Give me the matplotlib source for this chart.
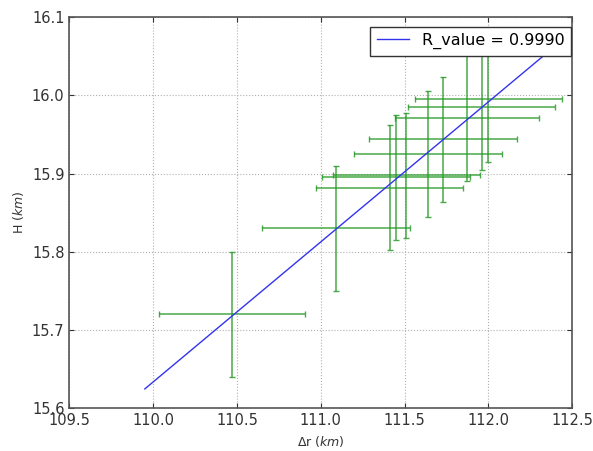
import numpy as np
import matplotlib.pyplot as plt

# data
dr = [110.47, 111.09, 111.41, 111.45, 111.51, 111.64, 111.73, 111.87, 111.96, 112.00]
H = [15.720, 15.830, 15.882, 15.895, 15.898, 15.925, 15.944, 15.971, 15.985, 15.995]
dr_err = [0.435, 0.44, 0.44, 0.44, 0.44, 0.44, 0.44, 0.43, 0.44, 0.44]
H_err = [0.08, 0.08, 0.08, 0.08, 0.08, 0.08, 0.08, 0.08, 0.08, 0.08]
line_x = [109.95, 112.40]
r_label = "R_value = 0.9990"

fig = plt.figure(figsize=(5.93, 4.51), dpi=100)
ax = fig.add_axes([0.117, 0.095, 0.848, 0.867])

ax.errorbar(dr, H, xerr=dr_err, yerr=H_err, fmt='none', ecolor='#2a9a2a',
            elinewidth=1.1, capsize=2.5, alpha=0.85, zorder=2)

# least squares line
p = np.polyfit(dr, H, 1)
xx = np.array(line_x)
ax.plot(xx, np.polyval(p, xx), color='#3333ee', lw=1.0, label=r_label, zorder=3)

ax.set_xlim(109.5, 112.5)
ax.set_ylim(15.6, 16.1)
ax.set_xticks(np.arange(109.5, 112.51, 0.5))
ax.set_yticks(np.arange(15.6, 16.11, 0.1))
ax.xaxis.set_major_formatter(plt.FormatStrFormatter('%.1f'))
ax.yaxis.set_major_formatter(plt.FormatStrFormatter('%.1f'))
ax.grid(True, color='#b0b0b0', linestyle=':', linewidth=0.8)
ax.tick_params(direction='in', labelsize=10.5, colors='#333333', top=True, right=True)
for s in ax.spines.values():
    s.set_color('#555555')
    s.set_linewidth(1.2)

ax.set_xlabel(r'$\Delta$r ($km$)', fontsize=9, color='#333333')
ax.set_ylabel(r'H ($km$)', fontsize=9, color='#333333')

leg = ax.legend(loc='upper right', bbox_to_anchor=(1.0, 0.98), fontsize=11.5,
                fancybox=False, framealpha=1, edgecolor='#333333',
                handlelength=2.0, borderaxespad=0.1)
leg.get_frame().set_linewidth(1.0)

fig.savefig('out.png', dpi=100)
